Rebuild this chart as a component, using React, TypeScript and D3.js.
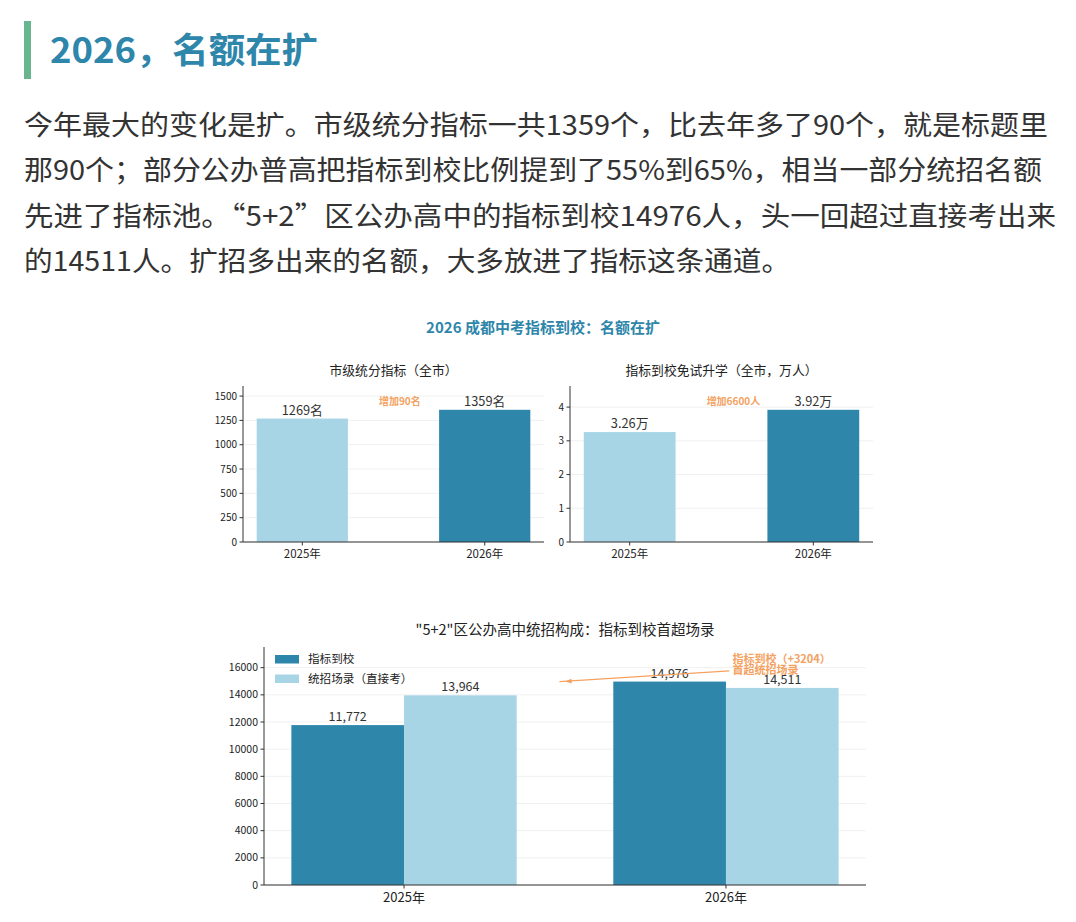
import React from "react";
import * as d3 from "d3";

const heading = "2026，名额在扩";
const paragraph = [
  "今年最大的变化是扩。市级统分指标一共1359个，比去年多了90个，就是标题里",
  "那90个；部分公办普高把指标到校比例提到了55%到65%，相当一部分统招名额",
  "先进了指标池。“5+2”区公办高中的指标到校14976人，头一回超过直接考出来",
  "的14511人。扩招多出来的名额，大多放进了指标这条通道。",
];
const paraWidths = [1024, 1018, 1032, 766];

const chartTitle = "2026 成都中考指标到校：名额在扩";
const years = ["2025年", "2026年"];

const quotaTitle = "市级统分指标（全市）";
const quotaValues = [1269, 1359];
const quotaLabels = ["1269名", "1359名"];
const quotaTicks = [0, 250, 500, 750, 1000, 1250, 1500];
const quotaNote = "增加90名";

const exemptTitle = "指标到校免试升学（全市，万人）";
const exemptValues = [3.26, 3.92];
const exemptLabels = ["3.26万", "3.92万"];
const exemptTicks = [0, 1, 2, 3, 4];
const exemptNote = "增加6600人";

const districtTitle = "\"5+2\"区公办高中统招构成：指标到校首超场录";
const seriesNames = ["指标到校", "统招场录（直接考）"];
const quotaSchool = [11772, 14976];
const directExam = [13964, 14511];
const districtTicks = [0, 2000, 4000, 6000, 8000, 10000, 12000, 14000, 16000];
const districtNote = ["指标到校（+3204）", "首超统招场录"];

const DARK = "#2e86ab";
const LIGHT = "#a8d5e6";
const ORANGE = "#f4a261";
const FONT = "'Noto Sans CJK SC', 'Noto Sans', sans-serif";
const AXIS = "#333333";
const GRID = "#f0f0f0";

type PanelProps = {
  x0: number; x1: number; yTop: number; yBot: number;
  values: number[]; labels: string[]; ticks: number[]; title: string;
  note: string; noteX: number;
};

function SimplePanel(p: PanelProps) {
  const x = d3.scaleLinear().domain([-0.325, 1.325]).range([p.x0, p.x1]);
  const y = d3.scaleLinear().domain([0, d3.max(p.values)! * 1.18]).range([p.yBot, p.yTop]);
  const bw = x(0.5) - x(0);
  const colors = [LIGHT, DARK];
  return (
    <g fontFamily={FONT}>
      <text x={(p.x0 + p.x1) / 2} y={p.yTop - 11} textAnchor="middle" fontSize={12.8} fill="#222">{p.title}</text>
      {p.ticks.map((t) => (
        <line key={"g" + t} x1={p.x0} x2={p.x1} y1={y(t)} y2={y(t)} stroke={GRID} strokeWidth={1} />
      ))}
      {p.values.map((v, i) => (
        <rect key={i} x={x(i) - bw / 2} y={y(v)} width={bw} height={y(0) - y(v)} fill={colors[i]} />
      ))}
      {p.values.map((v, i) => (
        <text key={"l" + i} x={x(i)} y={y(v) - 4} textAnchor="middle" fontSize={12.8} fill="#333">{p.labels[i]}</text>
      ))}
      <text x={x(p.noteX)} y={y(d3.max(p.values)! * 1.07) + 4} textAnchor="middle" fontSize={10} fontWeight="bold" fill={ORANGE}>{p.note}</text>
      <line x1={p.x0} x2={p.x0} y1={p.yTop} y2={p.yBot} stroke={AXIS} strokeWidth={1} />
      <line x1={p.x0} x2={p.x1} y1={p.yBot} y2={p.yBot} stroke={AXIS} strokeWidth={1} />
      {p.ticks.map((t) => (
        <g key={"t" + t}>
          <line x1={p.x0 - 3.5} x2={p.x0} y1={y(t)} y2={y(t)} stroke={AXIS} />
          <text x={p.x0 - 6} y={y(t) + 3.5} textAnchor="end" fontSize={10} fill="#222">{String(t)}</text>
        </g>
      ))}
      {years.map((yr, i) => (
        <g key={yr}>
          <line x1={x(i)} x2={x(i)} y1={p.yBot} y2={p.yBot + 3.5} stroke={AXIS} />
          <text x={x(i)} y={p.yBot + 15.5} textAnchor="middle" fontSize={11.5} fill="#222">{yr}</text>
        </g>
      ))}
    </g>
  );
}

function GroupPanel() {
  const x0 = 264, x1 = 866, yTop = 647, yBot = 885;
  const x = d3.scaleLinear().domain([-0.435, 1.435]).range([x0, x1]);
  const y = d3.scaleLinear().domain([0, d3.max(quotaSchool)! * 1.17]).range([yBot, yTop]);
  const bw = x(0.35) - x(0);
  const series = [
    { vals: quotaSchool, color: DARK, off: -0.5 },
    { vals: directExam, color: LIGHT, off: 0.5 },
  ];
  const fmt = d3.format(",");
  const tx = x(1.02), ty = y(16350);
  const ax = x(0.5), ay = y(14976);
  const sx = tx - 3, sy = ty + 8;
  const ang = Math.atan2(ay - sy, ax - sx);
  const ah = 7;
  const head = [
    [ax, ay],
    [ax - ah * Math.cos(ang - 0.35), ay - ah * Math.sin(ang - 0.35)],
    [ax - ah * Math.cos(ang + 0.35), ay - ah * Math.sin(ang + 0.35)],
  ];
  return (
    <g fontFamily={FONT}>
      <text x={(x0 + x1) / 2} y={yTop - 12} textAnchor="middle" fontSize={14.5} fill="#222">{districtTitle}</text>
      {districtTicks.map((t) => (
        <line key={"g" + t} x1={x0} x2={x1} y1={y(t)} y2={y(t)} stroke={GRID} />
      ))}
      {series.map((s, si) =>
        s.vals.map((v, i) => (
          <rect key={si + "-" + i} x={x(i) + s.off * bw - bw / 2} y={y(v)} width={bw} height={y(0) - y(v)} fill={s.color} />
        ))
      )}
      {series.map((s, si) =>
        s.vals.map((v, i) => (
          <text key={"l" + si + "-" + i} x={x(i) + s.off * bw} y={y(v) - 4} textAnchor="middle" fontSize={12.5} fill="#333">{fmt(v)}</text>
        ))
      )}
      <line x1={sx} y1={sy} x2={ax + ah * 0.8 * Math.cos(ang)} y2={ay} stroke={ORANGE} strokeWidth={1.2} />
      <polygon points={head.map((d) => d.join(",")).join(" ")} fill={ORANGE} />
      <text x={tx} y={ty} fontSize={11} fontWeight="bold" fill={ORANGE}>{districtNote[0]}</text>
      <text x={tx} y={ty + 11.5} fontSize={11} fontWeight="bold" fill={ORANGE}>{districtNote[1]}</text>
      <line x1={x0} x2={x0} y1={yTop} y2={yBot} stroke={AXIS} />
      <line x1={x0} x2={x1} y1={yBot} y2={yBot} stroke={AXIS} />
      {districtTicks.map((t) => (
        <g key={"t" + t}>
          <line x1={x0 - 3.5} x2={x0} y1={y(t)} y2={y(t)} stroke={AXIS} />
          <text x={x0 - 6} y={y(t) + 3.5} textAnchor="end" fontSize={10.5} fill="#222">{t}</text>
        </g>
      ))}
      {years.map((yr, i) => (
        <g key={yr}>
          <line x1={x(i)} x2={x(i)} y1={yBot} y2={yBot + 3.5} stroke={AXIS} />
          <text x={x(i)} y={yBot + 17} textAnchor="middle" fontSize={13} fill="#222">{yr}</text>
        </g>
      ))}
      {seriesNames.map((n, i) => (
        <g key={n}>
          <rect x={275} y={659 + i * 19.5 - 4} width={24} height={8.5} fill={i === 0 ? DARK : LIGHT} />
          <text x={308} y={659 + i * 19.5 + 4} fontSize={11.6} fill="#222">{n}</text>
        </g>
      ))}
    </g>
  );
}

export default function App() {
  return (
    <svg width={1076} height={922} style={{ position: "absolute", left: 0, top: 0, background: "#fff" }}>
      <rect x={0} y={0} width={1076} height={922} fill="#fff" />
      <rect x={24} y={21} width={7} height={58} fill="#67b690" />
      <text x={50} y={63} fontFamily={FONT} fontSize={35} fontWeight="bold" fill="#2e86ab"
        textLength={268} lengthAdjust="spacingAndGlyphs">{heading}</text>
      {paragraph.map((line, i) => (
        <text
          key={i}
          x={24}
          y={135 + i * 45.3}
          fontFamily={FONT}
          fontSize={27.5}
          fill="#333"
          textLength={paraWidths[i]}
          lengthAdjust="spacingAndGlyphs"
        >
          {line}
        </text>
      ))}
      <text x={543} y={333} textAnchor="middle" fontFamily={FONT} fontSize={15} fontWeight="bold" fill="#2e86ab">{chartTitle}</text>
      <SimplePanel x0={243} x1={544} yTop={386} yBot={542} values={quotaValues} labels={quotaLabels}
        ticks={quotaTicks} title={quotaTitle} note={quotaNote} noteX={0.535} />
      <SimplePanel x0={570} x1={873} yTop={386} yBot={542} values={exemptValues} labels={exemptLabels}
        ticks={exemptTicks} title={exemptTitle} note={exemptNote} noteX={0.565} />
      <GroupPanel />
    </svg>
  );
}
